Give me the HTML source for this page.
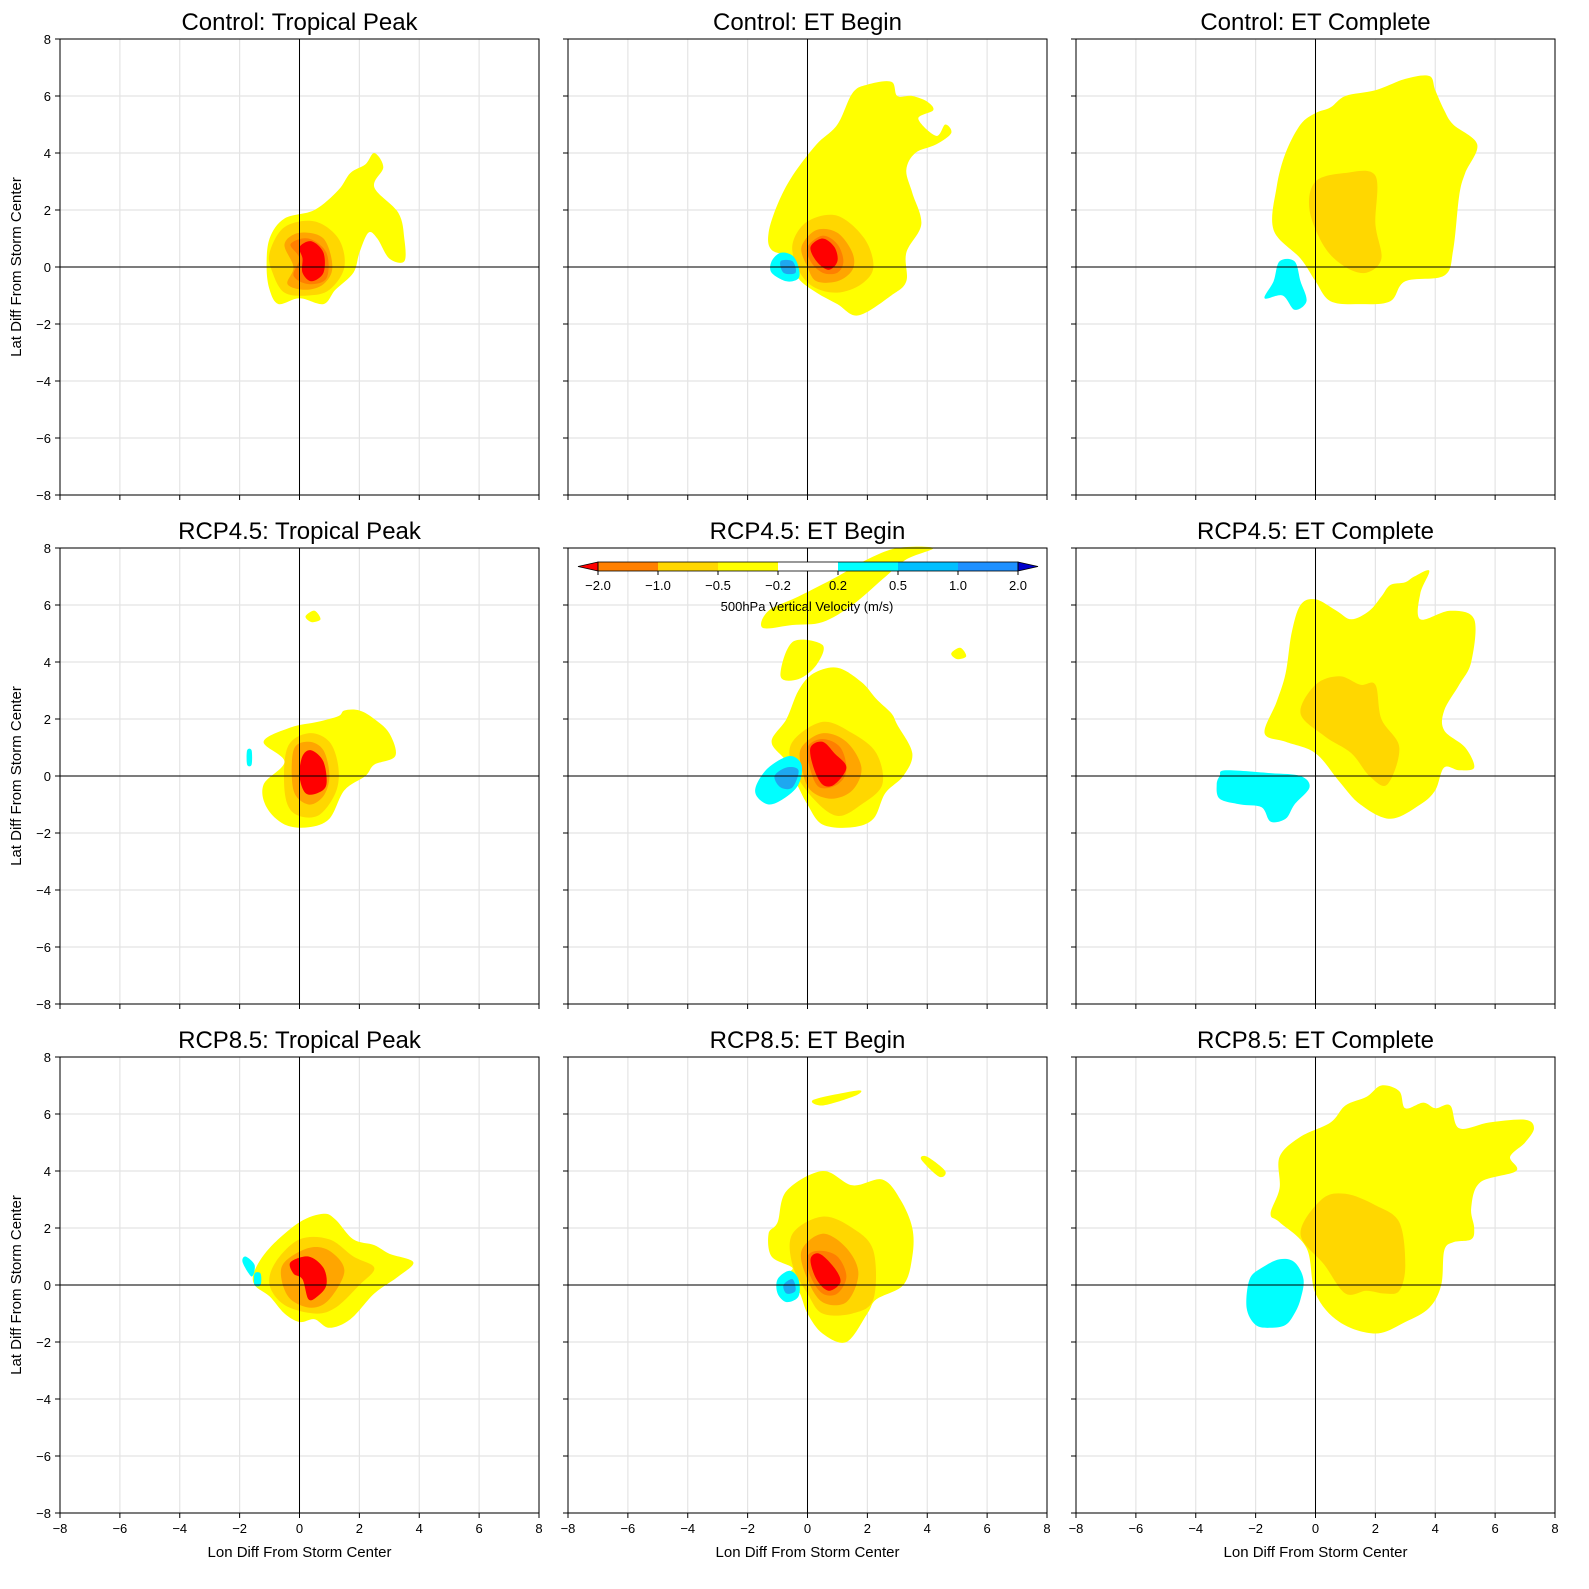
<!DOCTYPE html>
<html><head><meta charset="utf-8"><style>
body{margin:0;background:#fff}
svg{display:block;font-family:"Liberation Sans","DejaVu Sans",sans-serif}
</style></head><body>
<svg id="fig" width="1589" height="1589" viewBox="0 0 1589 1589" xmlns="http://www.w3.org/2000/svg"></svg>
<script>
const titles=["Control: Tropical Peak","Control: ET Begin","Control: ET Complete","RCP4.5: Tropical Peak","RCP4.5: ET Begin","RCP4.5: ET Complete","RCP8.5: Tropical Peak","RCP8.5: ET Begin","RCP8.5: ET Complete"];
const ticks=[-8,-6,-4,-2,0,2,4,6,8];
const cbLevels=[-2.0,-1.0,-0.5,-0.2,0.2,0.5,1.0,2.0];
const cbColors=["#ff8000","#ffd700","#ffff00","#ffffff","#00ffff","#00bfff","#1e90ff"];
const Y="#ffff00",G="#ffd700",O="#ffa500",D="#ff7f00",R="#ff0000",C="#00ffff",B="#1ea8f0";
// blobs per panel: [color, points(lon,lat)]
const p1=[[Y,[[-1,1],[-0.5,1.7],[0.5,2],[1.3,2.7],[1.7,3.3],[2.2,3.6],[2.5,4],[2.8,3.5],[2.5,2.8],[3.3,1.9],[3.5,1],[3.5,0.2],[3,0.3],[2.6,1],[2.3,1.2],[2,0.5],[1.8,-0.2],[1.2,-0.8],[0.8,-1.3],[0,-1.1],[-0.7,-1.3],[-1,-0.8],[-1.1,0]]],
[G,[[-1,0.5],[-0.5,1.4],[0.5,1.6],[1.3,1],[1.5,0],[1,-0.8],[0.3,-1],[-0.5,-0.9],[-0.9,-0.2]]],
[O,[[-0.5,0.8],[0,1.2],[0.8,1],[1.1,0],[0.8,-0.6],[0.2,-0.8],[-0.4,-0.6],[-0.2,0]]],
[D,[[-0.3,0.8],[0.3,1],[0.9,0.5],[0.9,-0.4],[0.3,-0.6],[-0.2,-0.3],[0,0.3]]],
[R,[[0,0.7],[0.4,0.9],[0.8,0.5],[0.8,-0.2],[0.4,-0.5],[0.1,-0.2],[0.1,0.3]]]];
const p2=[[Y,[[-1.3,1.2],[-1,2.2],[-0.5,3.2],[0.3,4.3],[1,5],[1.5,6.1],[2,6.4],[2.8,6.5],[3,6],[3.5,6],[4,5.8],[4.2,5.5],[3.7,5.2],[4.3,4.6],[4.6,5],[4.8,4.7],[4.3,4.3],[3.6,4],[3.3,3.4],[3.5,2.6],[3.8,1.5],[3.3,0.5],[3.3,-0.5],[2.8,-1],[1.7,-1.7],[1,-1.3],[0.3,-0.9],[-0.3,-0.4],[-0.5,0.3],[-1.2,0.6]]],
[G,[[-0.5,0.8],[0,1.6],[1,1.8],[1.9,1],[2.2,0],[1.8,-0.6],[1,-0.9],[0.2,-0.7],[-0.3,-0.1]]],
[O,[[-0.2,0.7],[0.3,1.3],[1,1.2],[1.5,0.5],[1.5,-0.1],[1,-0.5],[0.3,-0.5],[0,0]]],
[D,[[0,0.7],[0.5,1.1],[1,0.8],[1.2,0.2],[1,-0.2],[0.5,-0.2],[0.1,0.2]]],
[R,[[0.1,0.7],[0.5,1],[0.9,0.7],[1,0.2],[0.7,-0.1],[0.3,0.2]]],
[C,[[-1.2,0.2],[-0.9,0.5],[-0.5,0.4],[-0.3,0],[-0.3,-0.4],[-0.7,-0.5],[-1.2,-0.2]]],
[B,[[-0.9,0.2],[-0.5,0.2],[-0.4,-0.2],[-0.8,-0.2]]]];
const p3=[[Y,[[-1.4,1.3],[-1.3,2.8],[-1,4],[-0.5,5],[0,5.4],[0.5,5.6],[1,6],[2,6.2],[3,6.6],[3.8,6.7],[4,6.2],[4.3,5.5],[4.6,5],[5.4,4.3],[5,3.3],[4.8,2.5],[4.6,0.6],[4.3,-0.3],[3,-0.5],[2.5,-1.2],[1.5,-1.3],[0.5,-1.2],[0,-0.5],[-0.5,0.3]]],
[G,[[-0.2,2],[0,3],[1,3.3],[2,3.2],[2,1.5],[2.2,0.3],[1.7,-0.2],[1,0],[0.3,0.7]]],
[C,[[-1.2,0.2],[-0.7,0.2],[-0.5,-0.5],[-0.3,-1.2],[-0.7,-1.5],[-1.1,-1],[-1.7,-1.1],[-1.4,-0.5]]]];
const p4=[[Y,[[-1.2,1.2],[-0.3,1.7],[0.6,1.9],[1.3,2.1],[1.5,2.3],[2,2.3],[2.5,2],[3,1.5],[3.2,0.7],[2.5,0.4],[2.2,0],[1.5,-0.5],[1,-1.5],[0.3,-1.8],[-0.5,-1.7],[-1.1,-1.1],[-1.2,-0.3],[-0.5,0.5]]],
[Y,[[0.2,5.6],[0.5,5.8],[0.7,5.5],[0.4,5.4]]],
[G,[[-0.4,1],[0.3,1.5],[1,1.2],[1.3,0.3],[1.2,-0.6],[0.6,-1.4],[-0.2,-1.3],[-0.5,-0.5]]],
[O,[[-0.2,0.9],[0.3,1.2],[0.8,0.9],[1,0],[0.8,-0.7],[0.3,-1],[-0.2,-0.5]]],
[R,[[0.1,0.7],[0.4,0.9],[0.8,0.5],[0.9,-0.3],[0.6,-0.6],[0.2,-0.6],[0,0]]],
[C,[[-1.75,0.9],[-1.6,0.9],[-1.6,0.4],[-1.75,0.4]]]];
const p5=[[Y,[[-1.2,1.2],[-0.7,2],[-0.3,3],[0.2,3.6],[1,3.8],[1.8,3.3],[2.3,2.7],[2.8,2.2],[3,1.8],[3.5,0.8],[3.2,0],[2.6,-0.6],[2.2,-1.5],[1.5,-1.8],[0.5,-1.7],[0,-1],[-0.3,-0.4],[-0.7,0.5]]],
[Y,[[-1.5,5.2],[-1.3,5.8],[-0.3,6.3],[1,7],[2,7.6],[3,8],[4.2,8],[3.3,7.6],[2.5,6.9],[1.5,6],[0.5,5.4],[-0.5,5.3]]],
[Y,[[-0.9,3.5],[-0.5,4.7],[0.5,4.6],[0.3,3.9],[-0.3,3.4]]],
[Y,[[4.8,4.3],[5.1,4.5],[5.3,4.2],[5,4.1]]],
[G,[[-0.5,1.2],[0.5,1.9],[1.5,1.5],[2.3,0.8],[2.5,-0.3],[1.8,-1],[1,-1.4],[0.2,-0.8],[-0.5,0.3]]],
[O,[[-0.2,1],[0.5,1.5],[1.3,1.2],[1.8,0.3],[1.5,-0.5],[0.8,-0.8],[0.1,-0.5],[-0.2,0.3]]],
[D,[[0,1],[0.5,1.3],[1.1,1],[1.3,0.2],[1,-0.3],[0.4,-0.4],[0.1,0.2]]],
[R,[[0.1,1],[0.5,1.2],[0.9,0.8],[1.3,0.3],[0.9,-0.3],[0.5,-0.3],[0.2,0.3]]],
[C,[[-1.7,-0.3],[-1.3,0.3],[-0.6,0.7],[-0.2,0.4],[-0.3,-0.3],[-0.8,-0.8],[-1.3,-1],[-1.7,-0.7]]],
[B,[[-1.1,0],[-0.7,0.3],[-0.3,0.2],[-0.5,-0.4],[-0.9,-0.4]]]];
const p6=[[Y,[[-1.7,1.5],[-1.3,2.6],[-1,3.6],[-0.8,5],[-0.5,6],[0,6.2],[0.7,5.8],[1.2,5.5],[1.8,5.8],[2.2,6.3],[2.5,6.7],[3,6.8],[3.3,7],[3.8,7.2],[3.5,6.4],[3.5,5.5],[4.5,5.8],[5.3,5.5],[5.2,4],[4.8,3.2],[4.3,2.3],[4.3,1.6],[5,1],[5.3,0.3],[4.8,0.2],[4.3,0.3],[4,-0.5],[3.5,-1],[2.5,-1.5],[1.5,-1],[0.8,-0.2],[0,0.8],[-1,1.2]]],
[G,[[-0.5,2.2],[0,3.2],[0.8,3.5],[1.5,3.2],[2,3.2],[2.2,2],[2.8,1],[2.4,-0.3],[1.8,0],[1.2,0.8],[0.3,1.4]]],
[C,[[-3.2,0],[-3,0.2],[-1.5,0.1],[-0.5,0],[-0.2,-0.4],[-0.7,-1],[-1,-1.5],[-1.5,-1.6],[-1.8,-1.1],[-2.5,-1],[-3.2,-0.8],[-3.3,-0.3]]]];
const p7=[[Y,[[-1.5,0.5],[-1,1.3],[0,2.2],[0.8,2.5],[1.2,2.3],[1.8,1.6],[2.5,1.4],[3,1.1],[3.8,0.8],[3.3,0.3],[2.5,-0.3],[1.7,-1.2],[1,-1.5],[0.5,-1.2],[0,-1.3],[-0.5,-1],[-1,-0.4],[-1.5,0]]],
[G,[[-0.8,0.8],[0,1.6],[1,1.6],[1.8,1],[2.5,0.6],[2,0],[1.2,-0.8],[0.5,-1],[-0.5,-0.7],[-1,0]]],
[O,[[-0.5,0.8],[0.3,1.3],[1,1.2],[1.5,0.5],[1,-0.5],[0.4,-0.8],[-0.3,-0.5],[-0.6,0.2]]],
[R,[[-0.3,0.8],[0.3,1],[0.8,0.6],[0.9,0],[0.6,-0.4],[0.3,-0.5],[0.1,0.2],[-0.2,0.4]]],
[C,[[-1.8,1],[-1.5,0.7],[-1.6,0.3],[-1.9,0.8]]],
[C,[[-1.5,0.4],[-1.3,0.4],[-1.3,0],[-1.5,0]]]];
const p8=[[Y,[[-1.3,1.8],[-1,2.2],[-0.7,3.3],[0.5,4],[1.5,3.5],[2.5,3.7],[3.1,3],[3.5,2],[3.5,1],[3.2,0],[2.3,-0.5],[2,-1],[1.3,-2],[0.5,-1.7],[0,-1],[-0.3,-0.2],[-0.8,0.3],[-0.5,0.6],[-1.2,1]]],
[Y,[[0.2,6.5],[1.5,6.8],[1.8,6.8],[1.5,6.6],[0.5,6.3]]],
[Y,[[4,4.5],[4.6,4],[4.4,3.8],[3.8,4.4]]],
[G,[[-0.5,1.8],[0.5,2.4],[1.5,2],[2.2,1.2],[2.2,-0.5],[1.5,-1],[0.5,-1],[0,-0.3],[-0.5,0.7]]],
[O,[[-0.2,1.2],[0.5,1.8],[1.3,1.3],[1.7,0.4],[1.3,-0.6],[0.5,-0.6],[0,0.2]]],
[D,[[0,1],[0.4,1.2],[1,1],[1.3,0.3],[1,-0.3],[0.5,-0.3],[0.1,0.3]]],
[R,[[0.1,0.9],[0.4,1.1],[0.9,0.6],[1.1,0.1],[0.7,-0.2],[0.3,0.2]]],
[C,[[-1,0.2],[-0.6,0.5],[-0.3,0.2],[-0.3,-0.4],[-0.7,-0.6],[-1,-0.3]]],
[B,[[-0.8,0],[-0.5,0.2],[-0.4,-0.2],[-0.7,-0.3]]]];
const p9=[[Y,[[-1.5,2.5],[-1.2,3.4],[-1.2,4.5],[-0.5,5.2],[0.5,5.7],[1,6.3],[1.7,6.6],[2.2,7],[2.8,6.8],[3,6.2],[3.6,6.4],[4,6.2],[4.5,6.3],[4.8,5.5],[5.8,5.7],[7,5.8],[7.3,5.5],[7,5],[6.5,4.5],[6.7,4],[5.5,3.6],[5.2,2.7],[5.3,2],[5.2,1.6],[4.6,1.5],[4.3,1.2],[4.2,0],[3.8,-0.8],[3,-1.3],[2,-1.7],[0.8,-1.3],[0,-0.3],[-0.3,1.3],[-1.2,2.2]]],
[G,[[-0.5,1.8],[0.2,3],[1,3.2],[2,2.8],[2.8,2.2],[3,0.7],[2.8,-0.2],[2.3,-0.3],[1.7,-0.2],[1,-0.3],[0.3,0.7]]],
[C,[[-2.2,0.2],[-1.8,0.6],[-1.2,0.9],[-0.7,0.8],[-0.4,0.2],[-0.5,-0.5],[-0.7,-1],[-1,-1.4],[-1.5,-1.5],[-2,-1.4],[-2.3,-0.8]]]];
const blobs=[p1,p2,p3,p4,p5,p6,p7,p8,p9];

const NS="http://www.w3.org/2000/svg";
const svg=document.getElementById('fig');
function mk(t,a,p){const e=document.createElementNS(NS,t);for(const k in a)e.setAttribute(k,a[k]);(p||svg).appendChild(e);return e;}
const colX=[60,568,1076],rowY=[39,548,1057],W=479,H=456;
function smooth(pts){let d="";const n=pts.length;for(let i=0;i<n;i++){const p0=pts[(i-1+n)%n],p1=pts[i],p2=pts[(i+1)%n],p3=pts[(i+2)%n];if(i===0)d+="M"+p1[0]+","+p1[1];const c1=[p1[0]+(p2[0]-p0[0])/6,p1[1]+(p2[1]-p0[1])/6],c2=[p2[0]-(p3[0]-p1[0])/6,p2[1]-(p3[1]-p1[1])/6];d+="C"+c1[0].toFixed(1)+","+c1[1].toFixed(1)+" "+c2[0].toFixed(1)+","+c2[1].toFixed(1)+" "+p2[0].toFixed(1)+","+p2[1].toFixed(1);}return d+"Z";}
for(let i=0;i<9;i++){
  const r=Math.floor(i/3),c=i%3,x0=colX[c],y0=rowY[r];
  const sx=v=>x0+(v+8)/16*W, sy=v=>y0+(8-v)/16*H;
  const g=mk('g',{});
  
  
  ticks.forEach(t=>{
    mk('line',{x1:sx(t),x2:sx(t),y1:y0,y2:y0+H,stroke:'#e4e4e4','stroke-width':1.2},g);
    mk('line',{x1:x0,x2:x0+W,y1:sy(t),y2:sy(t),stroke:'#e4e4e4','stroke-width':1.2},g);
  });
  blobs[i].forEach(b=>{
    const p=mk('path',{d:smooth(b[1].map(q=>[sx(q[0]),sy(q[1])])),fill:b[0]},g);
    
    
  });
  mk('line',{x1:sx(0),x2:sx(0),y1:y0,y2:y0+H,stroke:'#000','stroke-width':1},g);
  mk('line',{x1:x0,x2:x0+W,y1:sy(0),y2:sy(0),stroke:'#000','stroke-width':1},g);
  mk('rect',{x:x0,y:y0,width:W,height:H,fill:'none',stroke:'#000','stroke-width':1},g);
  ticks.forEach(t=>{
    mk('line',{x1:sx(t),x2:sx(t),y1:y0+H,y2:y0+H+5,stroke:'#000'},g);
    mk('line',{x1:x0-5,x2:x0,y1:sy(t),y2:sy(t),stroke:'#000'},g);
    if(r===2){const tx=mk('text',{x:sx(t),y:y0+H+20,'font-size':13,'text-anchor':'middle'},g);tx.textContent=(t<0?'\u2212'+(-t):t);}
    if(c===0){const ty=mk('text',{x:x0-9,y:sy(t)+5,'font-size':13,'text-anchor':'end'},g);ty.textContent=(t<0?'\u2212'+(-t):t);}
  });
  const ti=mk('text',{x:x0+W/2,y:y0-9,'font-size':24,'text-anchor':'middle'},g);ti.textContent=titles[i];
  
  
  if(c===0){const yl=mk('text',{x:0,y:0,'font-size':15,'text-anchor':'middle',transform:'translate(21,'+(y0+H/2)+') rotate(-90)'},g);yl.textContent='Lat Diff From Storm Center';
    }
  if(r===2){const xl=mk('text',{x:x0+W/2,y:1557,'font-size':15,'text-anchor':'middle'},g);xl.textContent='Lon Diff From Storm Center';
    }
}
// colorbar
const cb=mk('g',{});


const cbx0=598,cbStep=60,cby=562,cbh=9;
const cx=k=>cbx0+k*cbStep;
for(let k=0;k<cbColors.length;k++){mk('rect',{x:cx(k),y:cby,width:cbStep,height:cbh,fill:cbColors[k]},cb);}
mk('polygon',{points:`${cx(0)},${cby} ${cx(0)-20},${cby+cbh/2} ${cx(0)},${cby+cbh}`,fill:'#ff0000',stroke:'#000','stroke-width':0.8},cb);
const ce=cx(cbColors.length);
mk('polygon',{points:`${ce},${cby} ${ce+20},${cby+cbh/2} ${ce},${cby+cbh}`,fill:'#0000cc',stroke:'#000','stroke-width':0.8},cb);
mk('rect',{x:cx(0),y:cby,width:ce-cx(0),height:cbh,fill:'none',stroke:'#000','stroke-width':0.8},cb);
cbLevels.forEach((v,k)=>{mk('line',{x1:cx(k),x2:cx(k),y1:cby+cbh,y2:cby+cbh+4,stroke:'#000'},cb);
  const t=mk('text',{x:cx(k),y:cby+cbh+19,'font-size':13,'text-anchor':'middle'},cb);t.textContent=(v<0?'\u2212'+(-v).toFixed(1):v.toFixed(1));});
const cl=mk('text',{x:807,y:611,'font-size':13,'text-anchor':'middle'},cb);cl.textContent='500hPa Vertical Velocity (m/s)';
</script>
</body></html>
